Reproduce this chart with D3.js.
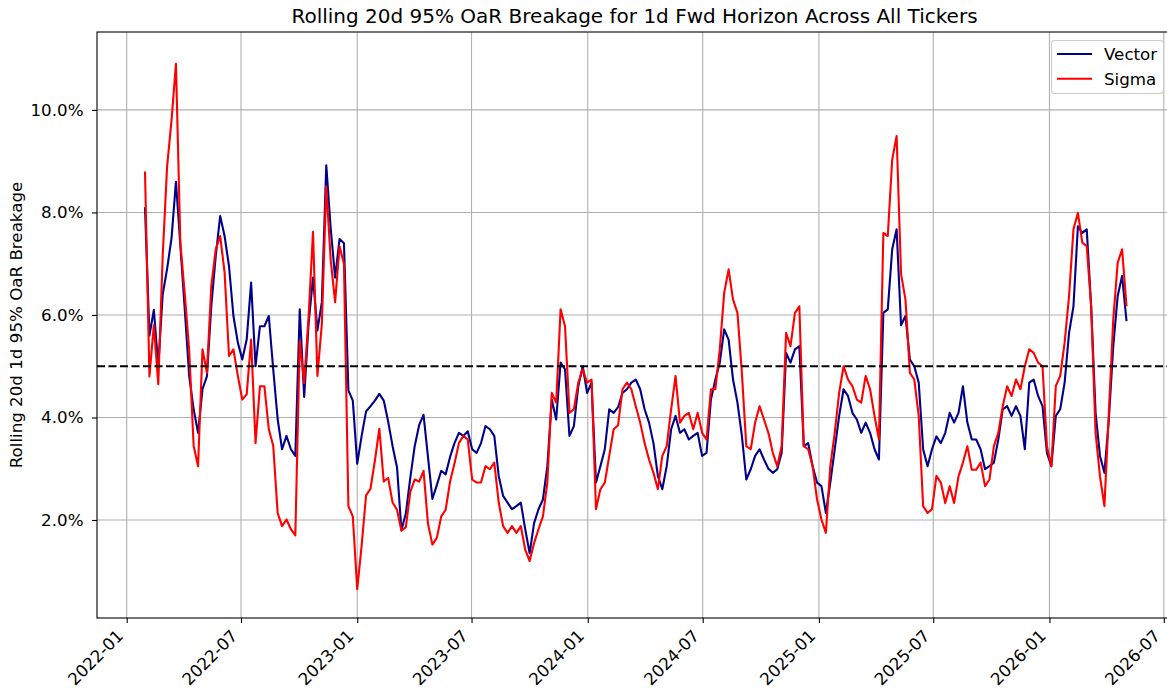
<!DOCTYPE html>
<html>
<head>
<meta charset="utf-8">
<script src="https://cdn.jsdelivr.net/npm/d3@7"></script>
<style>
    body { margin: 0; background: #fff; }
    svg { font-family: "DejaVu Sans", sans-serif; }
</style>
</head>
<body>
<div class="chart"></div>
<script>
// weekly samples, values in percent
const startDate = "2022-01-30";
const stepDays = 7;

const vector = [
    8.1, 5.6, 6.1, 5.0, 6.4, 6.9, 7.5, 8.6, 7.35, 6.1,
    4.8, 4.16, 3.7, 4.55, 4.8, 6.18, 7.15, 7.93, 7.54, 6.95,
    5.98, 5.46, 5.13, 5.52, 6.63, 5.0, 5.78, 5.78, 5.98, 4.94,
    3.97, 3.38, 3.64, 3.38, 3.25, 6.11, 4.4, 5.83, 6.73, 5.7,
    6.25, 8.92, 7.69, 6.73, 7.48, 7.4, 4.53, 4.33, 3.1, 3.64,
    4.12, 4.22, 4.33, 4.46, 4.33, 3.92, 3.44, 3.03, 1.8, 2.13,
    2.82, 3.44, 3.85, 4.05, 3.23, 2.41, 2.68, 2.96, 2.89, 3.23,
    3.5, 3.7, 3.64, 3.73, 3.38, 3.31, 3.5, 3.83, 3.77, 3.64,
    2.86, 2.47, 2.34, 2.21, 2.27, 2.34, 1.82, 1.35, 1.94, 2.21,
    2.4, 3.05, 4.35, 3.96, 5.07, 4.94, 3.64, 3.83, 4.61, 5.0,
    4.48, 4.68, 2.73, 3.05, 3.38, 4.16, 4.09, 4.2, 4.48, 4.55,
    4.68, 4.74, 4.55, 4.16, 3.9, 3.5, 2.86, 2.6, 3.05, 3.77,
    4.03, 3.7, 3.77, 3.57, 3.64, 3.7, 3.25, 3.31, 4.35, 4.74,
    5.07, 5.72, 5.52, 4.74, 4.29, 3.64, 2.79, 2.99, 3.25, 3.38,
    3.18, 3.0, 2.92, 2.99, 3.31, 5.26, 5.07, 5.33, 5.39, 3.44,
    3.5, 3.05, 2.73, 2.66, 2.14, 2.73, 3.38, 4.03, 4.55, 4.42,
    4.09, 3.96, 3.7, 3.9, 3.7, 3.38, 3.18, 6.04, 6.11, 7.28,
    7.67, 5.8, 5.98, 5.13, 5.0, 4.68, 3.38, 3.05, 3.38, 3.63,
    3.5, 3.7, 4.09, 3.9, 4.09, 4.61, 3.9, 3.57, 3.57, 3.38,
    2.99, 3.05, 3.12, 3.57, 4.16, 4.22, 4.03, 4.22, 4.03, 3.38,
    4.68, 4.74, 4.42, 4.22, 3.31, 3.05, 4.03, 4.16, 4.68, 5.65,
    6.17, 7.73, 7.6, 7.67, 6.17, 4.09, 3.25, 2.92, 3.96, 5.39,
    6.37, 6.76, 5.88
];

const sigma = [
    8.8, 4.8, 5.8, 4.65, 7.15, 8.9, 9.8, 10.9, 7.4, 6.4,
    5.3, 3.45, 3.05, 5.33, 4.87, 6.57, 7.28, 7.54, 6.83, 5.2,
    5.33, 4.81, 4.35, 4.45, 5.52, 3.5, 4.61, 4.61, 3.77, 3.45,
    2.14, 1.88, 2.01, 1.82, 1.7, 5.49, 4.67, 5.97, 7.62, 4.81,
    5.83, 8.51, 7.07, 6.25, 7.34, 7.0, 2.27, 2.07, 0.65, 1.5,
    2.48, 2.61, 3.16, 3.78, 2.75, 2.82, 2.34, 2.2, 1.79, 1.86,
    2.55, 2.79, 2.75, 2.96, 1.93, 1.52, 1.65, 2.07, 2.2, 2.75,
    3.1, 3.5, 3.64, 3.57, 2.79, 2.73, 2.73, 3.05, 2.99, 3.12,
    2.34, 1.88, 1.75, 1.88, 1.75, 1.88, 1.42, 1.2, 1.55, 1.82,
    2.07, 2.73, 4.48, 4.29, 6.11, 5.78, 4.09, 4.16, 4.68, 4.94,
    4.68, 4.74, 2.21, 2.6, 2.73, 3.25, 3.77, 3.85, 4.55, 4.68,
    4.55, 4.22, 3.9, 3.5, 3.18, 2.92, 2.6, 3.25, 3.44, 4.16,
    4.81, 3.9, 4.03, 4.09, 3.77, 4.09, 3.7, 3.57, 4.55, 4.55,
    5.33, 6.43, 6.89, 6.3, 6.04, 4.87, 3.44, 3.38, 3.9, 4.22,
    3.96, 3.7, 3.31, 3.05, 3.44, 5.65, 5.39, 6.04, 6.17, 3.44,
    3.38, 3.05, 2.4, 2.01, 1.75, 3.05, 3.7, 4.48, 5.0, 4.74,
    4.61, 4.35, 4.29, 4.81, 4.55, 4.03, 3.57, 7.6, 7.54, 9.03,
    9.49, 6.8, 6.3, 4.87, 4.74, 4.03, 2.27, 2.14, 2.21, 2.86,
    2.73, 2.33, 2.66, 2.33, 2.85, 3.12, 3.44, 2.98, 2.98, 3.12,
    2.66, 2.79, 3.44, 3.7, 4.22, 4.61, 4.42, 4.74, 4.55, 5.0,
    5.33, 5.26, 5.07, 5.0, 3.44, 3.05, 4.61, 4.81, 5.46, 6.37,
    7.67, 7.99, 7.41, 7.34, 6.17, 3.7, 2.85, 2.27, 4.09, 5.91,
    7.02, 7.28, 6.17
];

const threshold = 5.0;
const xTickLabels = ["2022-01", "2022-07", "2023-01", "2023-07", "2024-01", "2024-07", "2025-01", "2025-07", "2026-01", "2026-07"];
const yTicks = [2, 4, 6, 8, 10];
const seriesNames = ["Vector", "Sigma"];
const seriesColors = ["#00008b", "#ff0000"];

function drawChart() {
    const w = 1167, h = 693;
    // the axes run a little past the right edge of the picture
    const left = 97, right = 1172, top = 32, bottom = 618;
    const fontSize = 16.7;

    const start = new Date(startDate);
    const dates = vector.map((d, i) => d3.utcDay.offset(start, i * stepDays));

    var svg = d3.select(".chart")
        .append("svg")
        .attr("width", w)
        .attr("height", h);

    var xScale = d3.scaleUtc()
        .domain([new Date("2021-11-15"), new Date("2026-07-14")])
        .range([left, right]);

    var yScale = d3.scaleLinear()
        .domain([0.088, 11.52])
        .range([bottom, top]);

    const xTickDates = xTickLabels.map(t => new Date(t + "-01"));

    // grid
    svg.append("g").selectAll("line")
        .data(xTickDates)
        .enter().append("line")
        .attr("x1", d => xScale(d)).attr("x2", d => xScale(d))
        .attr("y1", top).attr("y2", bottom)
        .attr("stroke", "#b0b0b0").attr("stroke-width", 1.1);

    svg.append("g").selectAll("line")
        .data(yTicks)
        .enter().append("line")
        .attr("x1", left).attr("x2", right)
        .attr("y1", d => yScale(d)).attr("y2", d => yScale(d))
        .attr("stroke", "#b0b0b0").attr("stroke-width", 1.1);

    var line = d3.line()
        .x((d, i) => xScale(dates[i]))
        .y(d => yScale(d));

    [vector, sigma].forEach((series, k) => {
        svg.append("path")
            .datum(series)
            .attr("fill", "none")
            .attr("stroke", seriesColors[k])
            .attr("stroke-width", 2.1)
            .attr("stroke-linejoin", "round")
            .attr("d", line);
    });

    svg.append("line")
        .attr("x1", left).attr("x2", right)
        .attr("y1", yScale(threshold)).attr("y2", yScale(threshold))
        .attr("stroke", "#000")
        .attr("stroke-width", 2.1)
        .attr("stroke-dasharray", "8,3.5");

    // frame
    svg.append("rect")
        .attr("x", left).attr("y", top)
        .attr("width", right - left).attr("height", bottom - top)
        .attr("fill", "none").attr("stroke", "#000").attr("stroke-width", 1.1);

    // x axis
    var xAxis = d3.axisBottom(xScale)
        .tickValues(xTickDates)
        .tickFormat(d3.utcFormat("%Y-%m"))
        .tickSize(5)
        .tickSizeOuter(0);

    var gx = svg.append("g")
        .attr("transform", `translate(0, ${bottom})`)
        .call(xAxis);
    gx.select(".domain").remove();
    gx.selectAll(".tick line").attr("stroke", "#000").attr("stroke-width", 1.1);
    gx.selectAll(".tick text")
        .attr("x", 0).attr("y", 0).attr("dy", null)
        .attr("text-anchor", "end")
        .attr("transform", "translate(-3, 19) rotate(-45)")
        .attr("fill", "#000")
        .style("font-size", fontSize + "px")
        .style("font-family", "DejaVu Sans");

    // y axis
    var yAxis = d3.axisLeft(yScale)
        .tickValues(yTicks)
        .tickFormat(d => d.toFixed(1) + "%")
        .tickSize(5)
        .tickPadding(8.5)
        .tickSizeOuter(0);

    var gy = svg.append("g")
        .attr("transform", `translate(${left}, 0)`)
        .call(yAxis);
    gy.select(".domain").remove();
    gy.selectAll(".tick line").attr("stroke", "#000").attr("stroke-width", 1.1);
    gy.selectAll(".tick text")
        .attr("fill", "#000")
        .style("font-size", fontSize + "px")
        .style("font-family", "DejaVu Sans");

    svg.append("text")
        .attr("x", (left + right) / 2)
        .attr("y", 22.5)
        .attr("text-anchor", "middle")
        .style("font-size", "20px")
        .text("Rolling 20d 95% OaR Breakage for 1d Fwd Horizon Across All Tickers");

    svg.append("text")
        .attr("transform", `translate(22, ${(top + bottom) / 2}) rotate(-90)`)
        .attr("text-anchor", "middle")
        .style("font-size", fontSize + "px")
        .text("Rolling 20d 1d 95% OaR Breakage");

    // legend
    var legend = svg.append("g").attr("id", "legend");
    legend.append("rect")
        .attr("x", 1051.5).attr("y", 40.5)
        .attr("width", 112).attr("height", 53)
        .attr("rx", 3)
        .attr("fill", "#fff").attr("fill-opacity", 0.8)
        .attr("stroke", "#cccccc").attr("stroke-width", 1.1);

    var items = legend.selectAll("g.item")
        .data(seriesNames)
        .enter().append("g")
        .attr("class", "item")
        .attr("transform", (d, i) => `translate(0, ${54 + i * 24.7})`);

    items.append("line")
        .attr("x1", 1057).attr("x2", 1092)
        .attr("y1", 0).attr("y2", 0)
        .attr("stroke", (d, i) => seriesColors[i])
        .attr("stroke-width", 2.1);

    items.append("text")
        .attr("x", 1104)
        .attr("y", 6)
        .style("font-size", fontSize + "px")
        .text(d => d);
}

drawChart();
</script>
</body>
</html>
